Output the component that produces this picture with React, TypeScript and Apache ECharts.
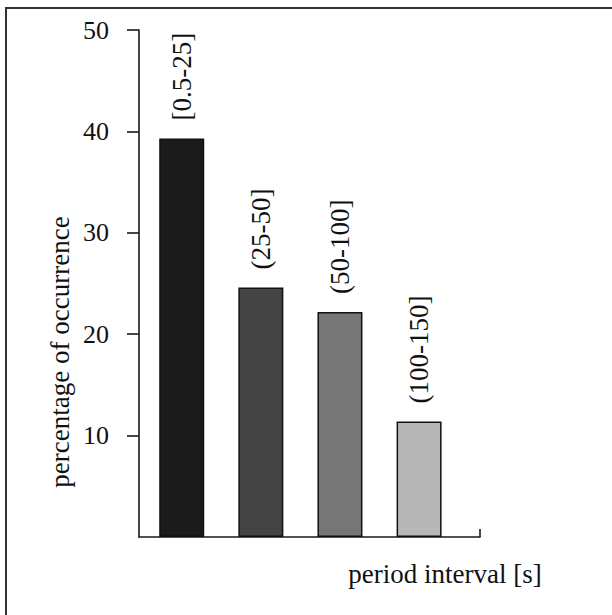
import React, { useEffect, useRef } from "react";
import * as echarts from "echarts";

const categories = ["[0.5-25]", "(25-50]", "(50-100]", "(100-150]"];
const occurrence = [39.3, 24.6, 22.2, 11.4];
const barColors = ["#1b1b1b", "#444444", "#767676", "#b7b7b7"];
const yTicks = [10, 20, 30, 40, 50];
const yAxisTitle = "percentage of occurrence";
const xAxisTitle = "period interval [s]";

const FONT = "'Liberation Serif', 'Times New Roman', Times, serif";

export default function App() {
  const ref = useRef<HTMLDivElement>(null);
  useEffect(() => {
    if (!ref.current) return;
    const chart = echarts.init(ref.current, undefined, { renderer: "svg" });
    const xMin = -0.54;
    const xMax = 3.77;
    chart.setOption({
      animation: false,
      backgroundColor: "#ffffff",
      grid: { left: 139, top: 30, bottom: 78, right: 132, containLabel: false },
      xAxis: {
        type: "value",
        min: xMin,
        max: xMax,
        axisLine: { show: true, onZero: false, lineStyle: { color: "#1a1a1a", width: 1.6 } },
        axisTick: { show: true, inside: true, length: 8, customValues: [xMax], lineStyle: { color: "#1a1a1a", width: 1.6 } },
        axisLabel: { show: false },
        splitLine: { show: false },
      },
      yAxis: {
        type: "value",
        min: 0,
        max: 50,
        interval: 10,
        axisLine: { show: true, onZero: false, lineStyle: { color: "#1a1a1a", width: 1.6 } },
        axisTick: { show: true, length: 12, customValues: yTicks, lineStyle: { color: "#1a1a1a", width: 1.6 } },
        axisLabel: {
          show: true,
          customValues: yTicks,
          margin: 30,
          color: "#111111",
          fontFamily: FONT,
          fontSize: 26,
        },
        splitLine: { show: false },
      },
      series: [
        {
          type: "bar",
          barWidth: 45,
          data: occurrence.map((v, i) => ({
            value: [i, v],
            itemStyle: { color: barColors[i] },
          })),
          itemStyle: { borderColor: "#111111", borderWidth: 1.5 },
          label: {
            show: true,
            position: "top",
            distance: 18,
            rotate: 90,
            align: "left",
            verticalAlign: "middle",
            formatter: (p: any) => categories[p.dataIndex],
            color: "#111111",
            fontFamily: FONT,
            fontSize: 27,
          },
        },
      ],
      graphic: [
        {
          type: "polyline",
          shape: { points: [[6, 615], [6, 8], [612, 8]] },
          style: { stroke: "#333333", lineWidth: 2, fill: "none" },
        },
        {
          type: "text",
          x: 60,
          y: 352,
          rotation: Math.PI / 2,
          style: {
            text: yAxisTitle,
            fill: "#111111",
            font: `27px ${FONT}`,
            align: "center",
            verticalAlign: "middle",
          },
        },
        {
          type: "text",
          x: 445,
          y: 574,
          style: {
            text: xAxisTitle,
            fill: "#111111",
            font: `27px ${FONT}`,
            align: "center",
            verticalAlign: "middle",
          },
        },
      ],
    });
    return () => chart.dispose();
  }, []);
  return (
    <div
      ref={ref}
      style={{ position: "absolute", left: 0, top: 0, width: 612, height: 615, background: "#fff" }}
    />
  );
}
